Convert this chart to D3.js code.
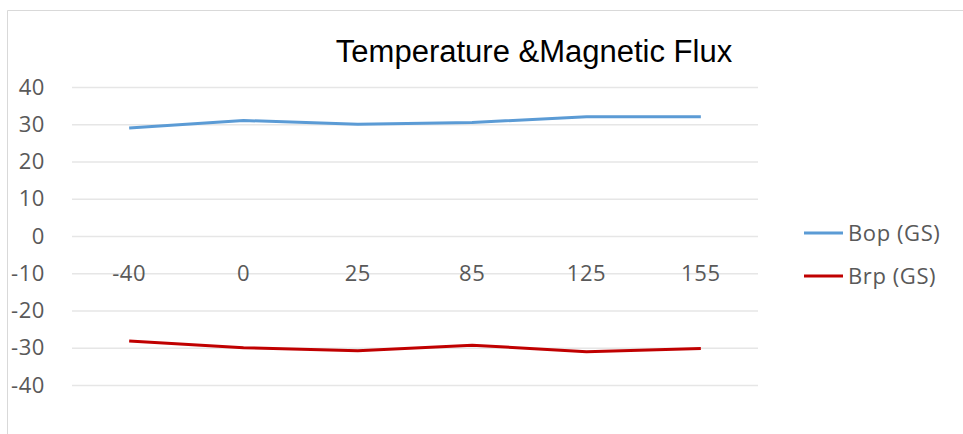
<!DOCTYPE html>
<html lang="en">
<head>
    <meta charset="UTF-8">
    <title>Temperature &amp; Magnetic Flux</title>
    <script src="https://d3js.org/d3.v7.min.js"></script>
    <style>
        body { margin: 0; background: #fff; }
        .tick text, .legend text {
            font-family: 'Open Sans', sans-serif;
            font-size: 22px;
            fill: #595959;
            letter-spacing: 0.6px;
        }
    </style>
</head>
<body>
<script>
    const width  = 963;
    const height = 434;

    const temps = ["-40", "0", "25", "85", "125", "155"];
    const bop = [29, 31, 30, 30.5, 32, 32];
    const brp = [-28.2, -30, -30.8, -29.3, -31.1, -30.2];
    const yTicks = [40, 30, 20, 10, 0, -10, -20, -30, -40];

    const series = [
        {name: "Bop (GS)", values: bop, color: "#5b9bd5"},
        {name: "Brp (GS)", values: brp, color: "#c00000"}
    ];

    const svg = d3.select("body").append("svg").attr("width", width).attr("height", height);

    // chart frame (top and left edge of the cropped chart box)
    svg.append("path")
        .attr("d", "M7.5," + height + "V10.5H" + width)
        .attr("stroke", "#d9d9d9")
        .attr("fill", "none");

    const x = d3.scaleBand().domain(temps).range([72, 758]);
    const y = d3.scaleLinear().domain([-40, 40]).range([385, 87]);

    // gridlines + y labels
    const yAxis = svg.append("g")
        .attr("transform", "translate(72,0)")
        .call(d3.axisLeft(y).tickValues(yTicks).tickFormat(d => String(d))
            .tickSize(-(758 - 72)).tickPadding(27));
    yAxis.select(".domain").remove();
    yAxis.selectAll(".tick line").attr("stroke", "#e6e6e6").attr("stroke-width", 1.5);

    // category labels sit on the -10 line
    const xAxis = svg.append("g")
        .attr("transform", "translate(0," + y(-10) + ")")
        .call(d3.axisBottom(x).tickSize(0).tickPadding(0));
    xAxis.select(".domain").remove();
    xAxis.selectAll(".tick text").attr("dy", "0.35em");

    const line = d3.line()
        .x((d, i) => x(temps[i]) + x.bandwidth() / 2)
        .y(d => y(d));

    series.forEach(s => {
        svg.append("path")
            .attr("d", line(s.values))
            .attr("stroke", s.color)
            .attr("stroke-width", 3)
            .attr("fill", "none");
    });

    svg.append("text")
        .text("Temperature &Magnetic Flux")
        .attr("x", 534)
        .attr("y", 62)
        .attr("text-anchor", "middle")
        .attr("font-family", "'Liberation Sans', Arial, sans-serif")
        .attr("font-size", 31)
        .attr("fill", "#000");

    const legend = svg.append("g").attr("class", "legend")
        .selectAll("g")
        .data(series)
        .enter().append("g")
        .attr("transform", (d, i) => "translate(804," + (233 + i * 43) + ")");
    legend.append("line")
        .attr("x2", 39)
        .attr("stroke", d => d.color)
        .attr("stroke-width", 3);
    legend.append("text")
        .text(d => d.name)
        .attr("x", 44)
        .attr("dy", "0.35em");
</script>
</body>
</html>
